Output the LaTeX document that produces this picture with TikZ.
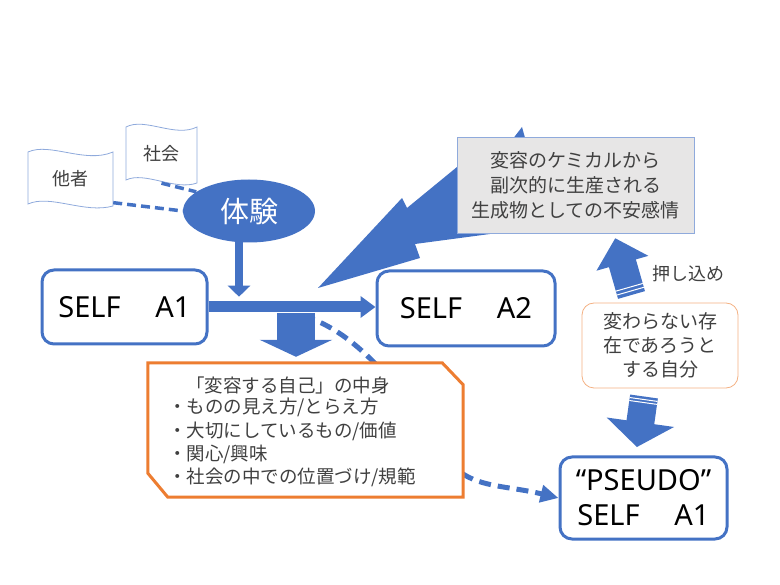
\documentclass[tikz,border=0pt]{standalone}
\usepackage{fontspec}
\setmainfont{Noto Sans CJK JP}
\newfontfamily\latinfont{Noto Sans}
\usepackage{tikz}
\usetikzlibrary{arrows.meta,calc,shapes.geometric}

\definecolor{selfblue}{RGB}{68,114,196}
\definecolor{kaiorange}{RGB}{237,125,49}
\definecolor{paleorange}{RGB}{244,177,131}
\definecolor{boxgray}{RGB}{231,230,230}
\definecolor{edgeblue}{RGB}{143,170,220}
\definecolor{txtgray}{RGB}{64,64,64}

\begin{document}
\begin{tikzpicture}[x=1pt,y=-1pt,
  selfbox/.style={draw=selfblue,line width=3pt,rounded corners=12pt,fill=white,align=center,font=\latinfont\fontsize{29}{35}\selectfont},
  wavebox/.style={draw=edgeblue,line width=0.8pt,fill=white},
  wavetext/.style={text=txtgray,font=\fontsize{18}{22}\selectfont,minimum height=54pt,inner sep=0pt},
  linkdash/.style={selfblue,line width=3.5pt,dash pattern=on 9pt off 5pt},
  jtext/.style={text=txtgray,align=center,font=\fontsize{19}{25}\selectfont},
  stripe/.style={white,line width=1pt}]
  \useasboundingbox (0,0) rectangle (780,585);

  % 他者, 社会 and 体験
  \draw[wavebox] (28,152) .. controls (50,142) and (85,164) .. (113,152) -- (113,206)
    .. controls (85,214) and (50,194) .. (28,204) -- cycle;
  \draw[wavebox] (126,127) .. controls (145,117) and (175,138) .. (197,127) -- (197,183)
    .. controls (175,191) and (145,171) .. (126,180) -- cycle;
  \node[wavetext,minimum width=85pt] (tasha) at (70.5,179) {他者};
  \node[wavetext,minimum width=71pt,minimum height=58pt] (shakai) at (161.5,154) {社会};
  \node[ellipse,fill=selfblue,text=white,minimum width=132pt,minimum height=63pt,inner sep=0pt,
    font=\fontsize{29}{32}\selectfont] (taiken) at (249,211) {体験};
  \draw[linkdash] (tasha.-29) -- (taiken.180);
  \draw[linkdash] (shakai.south) -- (taiken.160);

  % lightning and the anxiety box
  \fill[selfblue] (318,288) -- (402,198) -- (407,208) -- (457,167) -- (512,140) -- (522,127)
    -- (527,145) -- (520,230) -- (415,244) -- (420,258) -- cycle;
  \node[jtext,draw=edgeblue,line width=0.8pt,fill=boxgray,minimum width=237pt,minimum height=96pt] (fuan)
    at (575.5,185) {変容のケミカルから\\副次的に生産される\\生成物としての不安感情};

  % SELF boxes
  \node[selfbox,minimum width=165pt,minimum height=74pt] (self1) at (124.5,307) {SELF\hspace{1.2em}A1};
  \node[selfbox,minimum width=178pt,minimum height=75pt] (self2) at (466,308.5) {SELF\hspace{1.2em}A2};
  \node[selfbox,minimum width=167pt,minimum height=82pt] (pseudo) at (643.5,498) {“PSEUDO”\\SELF\hspace{1.2em}A1};

  \draw[selfblue,line width=8.5pt,-{Triangle[width=22pt,length=11pt]}]
    ($(taiken.south)+(-10,-3)$) -- ($(taiken.south)+(-10,54)$);
  \draw[selfblue,line width=11pt,-{Triangle[width=21pt,length=15pt]}] (self1.east) -- (self1.east -| self2.west);

  % contents of the changing self
  \node[minimum width=315pt,minimum height=134pt,inner sep=0pt] (nakami) at (305.5,430) {};
  \draw[selfblue,line width=38pt,-{Triangle[width=72pt,length=17pt]}]
    ($(nakami.north)+(-9.5,-50)$) -- ($(nakami.north)+(-9.5,-6)$);
  \coordinate (bend) at (303,316);
  \draw[selfblue,line width=5pt,dash pattern=on 12pt off 7pt,-{Triangle[width=17pt,length=18pt]}]
    (bend) .. controls (370,335) and (420,420) .. (450,462) .. controls (470,488) and (505,485) .. (pseudo.west);
  \draw[kaiorange,line width=3pt,fill=white] (nakami.north west) -- ($(nakami.north east)+(-21,0)$)
    -- ($(nakami.north east)+(0,22)$) -- (nakami.south east) -- ($(nakami.south west)+(20,0)$)
    -- ($(nakami.south west)+(0,-24)$) -- cycle;
  \node[text=txtgray,anchor=west,inner sep=0pt,font=\fontsize{18.5}{23}\selectfont] (nakamititle)
    at (186,385) {「変容する自己」の中身};
  \node[text=txtgray,anchor=north west,inner sep=0pt,align=left,font=\fontsize{18.5}{23.3}\selectfont] (nakamilist)
    at (168,398) {・ものの見え方/とらえ方\\・大切にしているもの/価値\\・関心/興味\\・社会の中での位置づけ/規範};

  % the self that tries not to change
  \node[jtext,draw=paleorange,line width=0.8pt,rounded corners=12pt,fill=white,minimum width=156pt,
    minimum height=85pt,font=\fontsize{19}{24}\selectfont] (kawaranai) at (660,345.5) {変わらない存\\在であろうと\\する自分};
  \begin{scope}[shift={(631.5,295)},rotate=16]
    \fill[selfblue] (-14,0) -- (-14,-33) -- (-27,-33) -- (0,-59) -- (27,-33) -- (14,-33) -- (14,0) -- cycle;
    \draw[stripe] (-14,-4) -- (14,-4);
    \draw[stripe] (-14,-8) -- (14,-8);
  \end{scope}
  \node[text=txtgray,font=\fontsize{18}{22}\selectfont] (oshikome) at (688,274) {押し込め};
  \begin{scope}[shift={(644,396.5)},rotate=-8]
    \fill[selfblue] (-14,0) -- (14,0) -- (14,26) -- (34,26) -- (0,51) -- (-34,26) -- (-14,26) -- cycle;
    \draw[stripe] (-14,3) -- (14,3);
    \draw[stripe] (-14,6) -- (14,6);
  \end{scope}
\end{tikzpicture}
\end{document}
